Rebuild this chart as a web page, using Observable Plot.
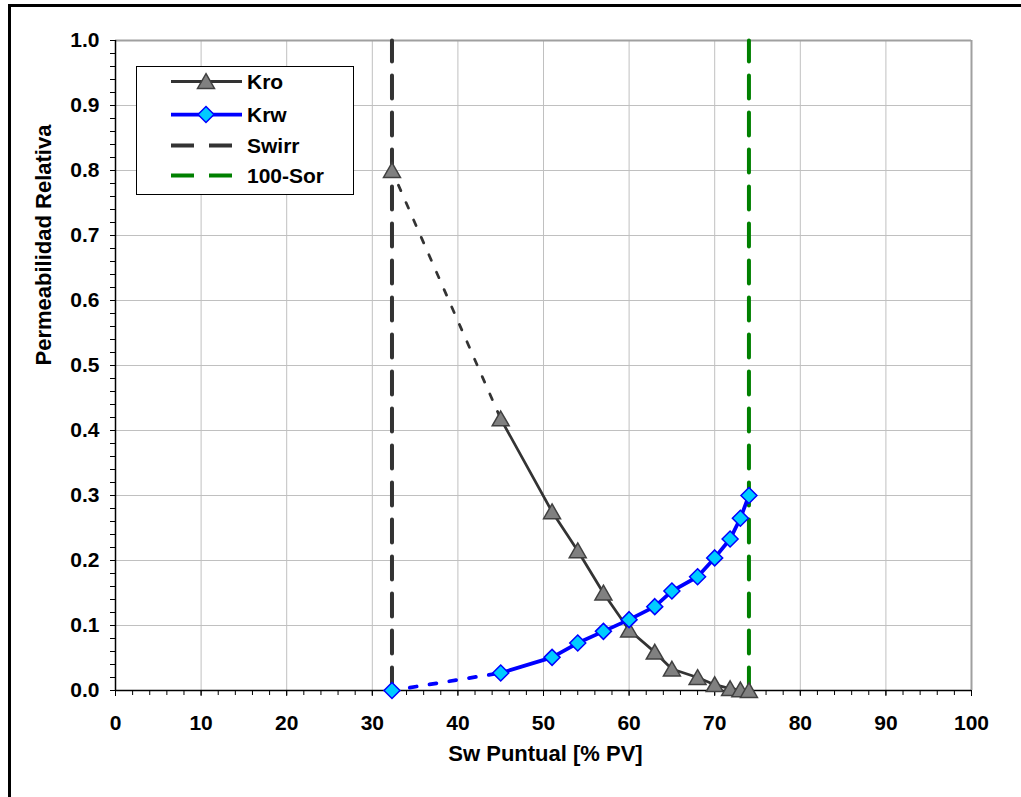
<!DOCTYPE html>
<html>
<head>
<meta charset="utf-8">
<script src="https://cdn.jsdelivr.net/npm/d3@7"></script>
<script src="https://cdn.jsdelivr.net/npm/@observablehq/plot@0.6"></script>
<style>
  html, body { margin: 0; padding: 0; background: #fff; }
  #wrap { position: relative; width: 1021px; height: 797px; overflow: hidden; background: #fff; }
  #frame { position: absolute; left: 8px; top: 4px; width: 1100px; height: 900px;
           border-left: 3px solid #000; border-top: 3px solid #000; }
  #chart { position: absolute; left: 0; top: 0; }
  #legend { position: absolute; left: 136px; top: 66px; width: 218px; height: 129px;
            box-sizing: border-box; border: 1.5px solid #000; background: #fff; }
  text { font-family: "Liberation Sans", Arial, sans-serif; }
</style>
</head>
<body>
<div id="wrap">
  <div id="frame"></div>
  <div id="chart"></div>
  <div id="legend"></div>
</div>
<script>
// ---- data ----
const sw  = [32.3, 45, 51, 54, 57, 60, 63, 65, 68, 70, 71.8, 73, 74];
const kro = [0.800, 0.418, 0.275, 0.215, 0.150, 0.093, 0.059, 0.033, 0.020, 0.009, 0.003, 0.001, 0.000];
const krw = [0.000, 0.027, 0.051, 0.073, 0.091, 0.109, 0.129, 0.153, 0.175, 0.204, 0.233, 0.265, 0.300];
const swirr = 32.3;
const sor100 = 74;
const seriesNames = ["Kro", "Krw", "Swirr", "100-Sor"];
const xTickValues = [0, 10, 20, 30, 40, 50, 60, 70, 80, 90, 100];
const yTickValues = [0.0, 0.1, 0.2, 0.3, 0.4, 0.5, 0.6, 0.7, 0.8, 0.9, 1.0];
const xMinorTicks = d3.range(0, 101, 2);
const yMinorTicks = d3.range(0, 51).map(i => i / 50);
const xTitle = "Sw Puntual [% PV]";
const yTitle = "Permeabilidad Relativa";

const rows = sw.map((s, i) => ({sw: s, kro: kro[i], krw: krw[i]}));
const swirrLine = [{sw: swirr, k: 0}, {sw: swirr, k: 1}];
const sorLine = [{sw: sor100, k: 0}, {sw: sor100, k: 1}];

const colKro = "#333333", colKrw = "#0000ff", colSwirr = "#333333", colSor = "#008000";
const rTri = 6.3, rDia = 7.2;

const chart = Plot.plot({
  width: 1021,
  height: 797,
  marginLeft: 115,
  marginRight: 50,
  marginTop: 40,
  marginBottom: 107,
  x: {domain: [0, 100], label: null},
  y: {domain: [0, 1], label: null},
  style: {
    fontFamily: '"Liberation Sans", Arial, sans-serif',
    fontWeight: "bold",
    fontSize: "21px",
    color: "#000",
    background: "transparent",
    overflow: "visible"
  },
  marks: [
    // grid
    Plot.ruleX(xTickValues.filter(d => d > 0 && d < 100), {stroke: "#c0c0c0", strokeWidth: 1}),
    Plot.ruleY(yTickValues.filter(d => d > 0 && d < 1), {stroke: "#c0c0c0", strokeWidth: 1}),
    // plot border (top / right)
    Plot.ruleY([1], {stroke: "#a0a0a0", strokeWidth: 2}),
    Plot.ruleX([100], {stroke: "#a0a0a0", strokeWidth: 2}),
    // vertical dashed limits
    Plot.line(swirrLine, {x: "sw", y: "k", stroke: colSwirr, strokeWidth: 4, strokeDasharray: "23,14"}),
    Plot.line(sorLine, {x: "sw", y: "k", stroke: colSor, strokeWidth: 4, strokeDasharray: "23,14"}),
    // axes
    Plot.axisY(yMinorTicks, {tickSize: 5, tickFormat: () => "", label: null}),
    Plot.axisY(yTickValues, {tickSize: 5, tickPadding: 11, tickFormat: d3.format(".1f"), label: null}),
    Plot.axisX(xMinorTicks, {tickSize: 5, tickFormat: () => "", label: null}),
    Plot.axisX(xTickValues, {tickSize: 6, tickPadding: 19, tickFormat: d => String(d), label: null}),
    Plot.ruleX([0], {stroke: "#000", strokeWidth: 1.5}),
    Plot.ruleY([0], {stroke: "#000", strokeWidth: 1.5}),
    // axis titles
    Plot.text([xTitle], {frameAnchor: "bottom", dy: 70, dx: 2, text: d => d, fontSize: 22, fontWeight: "bold"}),
    Plot.text([yTitle], {frameAnchor: "left", dx: -72, rotate: -90, text: d => d, fontSize: 22, fontWeight: "bold"}),
    // Kro
    Plot.line(rows.slice(0, 2), {x: "sw", y: "kro", stroke: colKro, strokeWidth: 2.75, strokeDasharray: "6,13", strokeDashoffset: 3}),
    Plot.line(rows.slice(1), {x: "sw", y: "kro", stroke: colKro, strokeWidth: 2.75}),
    Plot.dot(rows, {x: "sw", y: "kro", symbol: "triangle", r: rTri, fill: "#808080", stroke: "#404040", strokeWidth: 1.5, dy: 2}),
    // Krw
    Plot.line(rows.slice(0, 2), {x: "sw", y: "krw", stroke: colKrw, strokeWidth: 3.75, strokeDasharray: "7,13", strokeDashoffset: 2}),
    Plot.line(rows.slice(1), {x: "sw", y: "krw", stroke: colKrw, strokeWidth: 3.75}),
    Plot.dot(rows, {x: "sw", y: "krw", symbol: "diamond2", r: rDia, fill: "#00ccff", stroke: colKrw, strokeWidth: 1.5})
  ]
});
document.getElementById("chart").appendChild(chart);

// ---- legend ----
const lg = d3.select("#legend").append("svg")
  .attr("width", 215).attr("height", 126)
  .style("display", "block");
const rowsY = [14.5, 47.5, 78.5, 108.5];
const lx1 = 34, lx2 = 105, mx = 69, tx = 110;
const items = [
  {name: seriesNames[0], stroke: colKro, width: 3, dash: null, sym: d3.symbolTriangle, size: Math.PI * rTri * rTri, fill: "#808080", sstroke: "#404040", sdy: 2},
  {name: seriesNames[1], stroke: colKrw, width: 3.75, dash: null, sym: d3.symbolDiamond2, size: Math.PI * rDia * rDia, fill: "#00ccff", sstroke: colKrw, sdy: 0},
  {name: seriesNames[2], stroke: colSwirr, width: 4, dash: "23,15", sym: null},
  {name: seriesNames[3], stroke: colSor, width: 4, dash: "23,15", sym: null}
];
items.forEach((it, i) => {
  const y = rowsY[i];
  lg.append("line").attr("x1", lx1).attr("x2", lx2).attr("y1", y).attr("y2", y)
    .attr("stroke", it.stroke).attr("stroke-width", it.width)
    .attr("stroke-dasharray", it.dash);
  if (it.sym) {
    lg.append("path").attr("d", d3.symbol(it.sym, it.size)())
      .attr("transform", `translate(${mx},${y + it.sdy})`)
      .attr("fill", it.fill).attr("stroke", it.sstroke).attr("stroke-width", 1.5);
  }
  lg.append("text").attr("x", tx).attr("y", y).attr("dy", "0.35em")
    .attr("font-size", 21).attr("font-weight", "bold").attr("fill", "#000")
    .text(it.name);
});
</script>
</body>
</html>
